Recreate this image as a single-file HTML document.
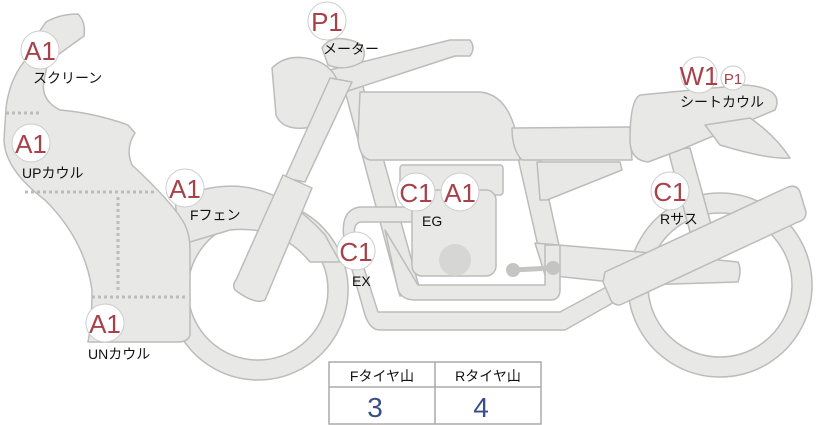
<!DOCTYPE html>
<html><head><meta charset="utf-8"><style>
html,body{margin:0;padding:0;background:#fff;}
svg{display:block;font-family:"Liberation Sans","Noto Sans CJK JP",sans-serif;}
.s{fill:#e8e8e6;stroke:#bcbcbc;stroke-width:1.5;stroke-linejoin:round;}
.b{fill:#fff;stroke:#ccc;stroke-width:1;}
.r{fill:#a8424a;font-size:26px;text-anchor:middle;}
.t{fill:#111;font-size:14px;}
</style></head><body>
<svg width="822" height="425" viewBox="0 0 822 425">
<!-- rear wheel -->
<path class="s" fill-rule="evenodd" d="M720,193a92,92 0 1,0 0.1,0Z M720,213a72,72 0 1,1 -0.1,0Z"/>
<!-- front wheel -->
<path class="s" fill-rule="evenodd" d="M258,200a90,90 0 1,0 0.1,0Z M258,220a70,70 0 1,1 -0.1,0Z"/>
<!-- fender -->
<path class="s" d="M175,200 Q258,160 325,235 L340,262 L310,262 Q280,225 230,230 L180,245Z"/>
<!-- rear frame / shock -->
<path class="s" d="M518,158 L540,158 L560,250 L540,255Z"/>
<path class="s" d="M668,150 L690,148 L712,228 L690,232Z"/>
<!-- swingarm -->
<path class="s" d="M535,243 L640,252 L738,262 Q742,270 738,282 L640,285 L545,275Z"/>
<!-- frame tube -->
<path class="s" d="M342,80 L360,76 L420,290 L400,296Z"/>
<!-- exhaust pipes -->
<path class="s" d="M360,207 L430,207 L430,222 L362,222 Q352,222 355,240 L378,312 L560,312 L610,285 L618,300 L565,330 L380,330 Q370,330 365,315 L345,245 Q338,210 360,207Z"/>
<path class="s" d="M385,230 L398,290 Q402,300 415,300 L550,300 Q560,300 560,290 L560,245 L545,245 L545,285 L418,285 Z"/>
<!-- engine -->
<rect class="s" x="400" y="165" width="103" height="30" rx="3"/>
<rect class="s" x="412" y="190" width="84" height="86" rx="10"/>
<circle cx="455" cy="260" r="16" fill="#d6d6d4"/>
<path d="M513,270 L552,268" stroke="#c4c4c2" stroke-width="5"/>
<circle cx="513" cy="270" r="7" fill="#c4c4c2"/><circle cx="553" cy="268" r="7" fill="#c4c4c2"/>
<!-- tank -->
<path class="s" d="M360,92 L480,92 Q515,95 520,160 L370,160 Q360,158 358,140Z"/>
<!-- seat -->
<path class="s" d="M512,128 L630,127 L632,160 L522,160 Q512,150 512,128Z"/>
<path class="s" d="M537,162 L620,162 L622,170 L547,200 L540,200Z"/>
<!-- seat cowl -->
<path class="s" d="M640,95 L745,85 Q785,88 775,110 L680,150 L648,162 Q630,160 630,140 Q630,100 640,95Z"/>
<path class="s" d="M705,125 L750,118 Q775,135 790,158 Q770,160 720,145Z"/>
<!-- muffler -->
<path class="s" d="M605,272 L788,187 Q797,184 800,192 L806,212 Q806,220 798,222 L620,305 Q612,305 610,298 L603,282Z"/>
<!-- handlebar -->
<path class="s" d="M330,70 L450,40 L470,40 Q476,48 470,56 L455,56 L345,92Z"/>
<!-- meter -->
<path class="s" d="M322,48 Q330,35 350,40 Q370,45 362,62 Q345,72 328,65Z"/>
<!-- headlight -->
<path class="s" d="M272,68 Q285,55 305,58 Q335,62 340,90 Q340,125 305,128 Q282,130 276,115Z"/>
<!-- fork -->
<path class="s" d="M330,78 L352,82 L305,182 L285,178Z"/>
<path class="s" d="M283,175 L312,188 L265,300 Q255,305 235,290 Q232,285 236,280Z"/>
<!-- fairing -->
<path class="s" d="M46,22 Q60,14 78,14 Q86,22 84,36 L48,62 L44,80 Q40,100 60,110 Q95,113 128,125 L135,133 Q125,148 132,165 Q175,205 185,225 Q190,235 190,250 L190,335 Q188,342 178,342 L88,342 Q92,320 92,290 Q85,240 45,200 Q5,170 4,140 L6,108 Q10,75 30,55 L30,45Z"/>
<g stroke="#bcbcbc" stroke-width="3" stroke-dasharray="3,3">
<path d="M6,113 H40"/><path d="M25,192 H155"/><path d="M118,197 V292"/><path d="M92,297 H188"/>
</g>
<!-- badges -->
<circle class="b" cx="40" cy="50" r="19"/><text class="r" x="40" y="60">A1</text>
<circle class="b" cx="31" cy="143" r="19"/><text class="r" x="31" y="153">A1</text>
<circle class="b" cx="185" cy="188" r="19"/><text class="r" x="185" y="198">A1</text>
<circle class="b" cx="105" cy="323" r="19"/><text class="r" x="105" y="333">A1</text>
<circle class="b" cx="327" cy="21" r="19"/><text class="r" x="327" y="31">P1</text>
<circle class="b" cx="416" cy="192" r="19"/><text class="r" x="416" y="202">C1</text>
<circle class="b" cx="460" cy="192" r="19"/><text class="r" x="460" y="202">A1</text>
<circle class="b" cx="356" cy="251" r="19"/><text class="r" x="356" y="261">C1</text>
<circle class="b" cx="670" cy="191" r="19"/><text class="r" x="670" y="201">C1</text>
<circle class="b" cx="699" cy="75" r="18"/><text class="r" x="699" y="85">W1</text>
<circle class="b" cx="733" cy="78" r="12"/><text class="r" x="733" y="84" style="font-size:15px">P1</text>
<!-- labels -->
<text class="t" x="33" y="83">スクリーン</text>
<text class="t" x="22" y="178">UPカウル</text>
<text class="t" x="190" y="220">Fフェン</text>
<text class="t" x="88" y="359">UNカウル</text>
<text class="t" x="323" y="54">メーター</text>
<text class="t" x="422" y="226">EG</text>
<text class="t" x="352" y="286">EX</text>
<text class="t" x="660" y="224">Rサス</text>
<text class="t" x="680" y="107">シートカウル</text>
<!-- table -->
<g stroke="#aaa" stroke-width="1.5" fill="none">
<rect x="329" y="362" width="212" height="62"/>
<path d="M329,387 H541 M435,362 V424"/>
</g>
<text class="t" x="382" y="381" text-anchor="middle">Fタイヤ山</text>
<text class="t" x="488" y="381" text-anchor="middle">Rタイヤ山</text>
<text x="375" y="417" fill="#3a4f8a" font-size="28" text-anchor="middle">3</text>
<text x="481" y="417" fill="#3a4f8a" font-size="28" text-anchor="middle">4</text>
</svg>
</body></html>
